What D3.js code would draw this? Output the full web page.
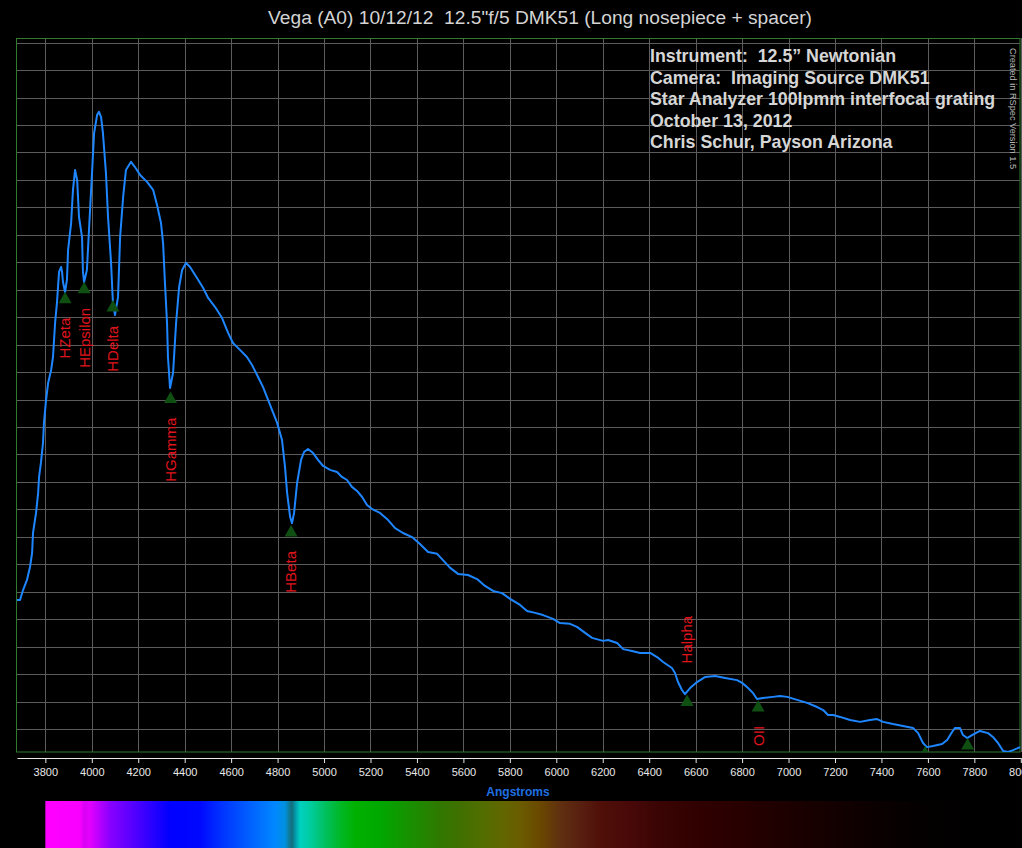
<!DOCTYPE html>
<html lang="en">
<head>
<meta charset="UTF-8">
<title>Vega spectrum</title>
<script src="https://d3js.org/d3.v7.min.js"></script>
<style>
  html, body { margin: 0; padding: 0; background: #000; }
  svg { display: block; font-family: 'Liberation Sans', Arial, sans-serif; }
  svg text { white-space: pre; }
</style>
</head>
<body>
<div id="chart"></div>
<script>

// spectrum trace (angstroms, relative flux in grid units)
const wavelength = [3678, 3691, 3704, 3721, 3734, 3743, 3747, 3760, 3769, 3773,
  3781, 3790, 3794, 3803, 3812, 3825, 3833, 3842, 3850, 3859,
  3868, 3872, 3876, 3885, 3893, 3898, 3911, 3919, 3928, 3937,
  3945, 3958, 3962, 3967, 3979, 3988, 4001, 4010, 4023, 4031,
  4040, 4048, 4061, 4070, 4083, 4091, 4100, 4113, 4122, 4135,
  4147, 4169, 4186, 4208, 4238, 4264, 4281, 4298, 4307, 4315,
  4324, 4328, 4337, 4350, 4363, 4376, 4389, 4406, 4423, 4453,
  4479, 4501, 4531, 4561, 4587, 4608, 4638, 4668, 4690, 4716,
  4737, 4768, 4798, 4819, 4832, 4841, 4854, 4862, 4871, 4884,
  4901, 4914, 4931, 4953, 4974, 4996, 5026, 5056, 5077, 5099,
  5120, 5142, 5164, 5185, 5207, 5241, 5276, 5306, 5340, 5379,
  5413, 5448, 5487, 5508, 5543, 5577, 5620, 5659, 5693, 5728,
  5766, 5801, 5844, 5874, 5909, 5943, 5986, 6016, 6059, 6089,
  6124, 6154, 6201, 6223, 6262, 6288, 6326, 6361, 6404, 6434,
  6460, 6498, 6511, 6524, 6541, 6554, 6576, 6606, 6640, 6684,
  6727, 6778, 6800, 6826, 6847, 6864, 6890, 6933, 6963, 6994,
  7037, 7080, 7123, 7149, 7170, 7192, 7222, 7265, 7308, 7351,
  7381, 7407, 7450, 7493, 7536, 7558, 7579, 7596, 7622, 7661,
  7683, 7704, 7717, 7738, 7751, 7769, 7790, 7824, 7859, 7880,
  7902, 7924, 7945, 7967, 7997];

const flux = [5.70, 5.70, 6.06, 6.43, 6.90, 7.41, 8.14, 8.87, 9.60, 10.18,
  10.69, 11.42, 12.15, 12.98, 13.60, 14.08, 14.55, 15.79, 16.52, 17.65,
  17.83, 17.65, 17.28, 16.92, 17.36, 18.45, 19.43, 20.64, 21.36, 21.00,
  19.65, 18.92, 17.65, 17.28, 17.72, 19.18, 21.25, 22.71, 23.37, 23.48,
  23.29, 22.71, 21.25, 19.65, 17.98, 16.52, 16.08, 16.74, 18.92, 20.38,
  21.36, 21.66, 21.47, 21.18, 20.93, 20.64, 20.09, 19.43, 18.70, 17.25,
  15.79, 14.55, 13.42, 13.97, 15.79, 17.10, 17.72, 17.98, 17.83, 17.43,
  17.07, 16.70, 16.37, 15.97, 15.43, 15.06, 14.81, 14.55, 14.26, 13.82,
  13.46, 12.80, 12.15, 11.53, 10.54, 9.60, 8.72, 8.50, 8.87, 9.96,
  10.80, 11.09, 11.20, 11.05, 10.80, 10.58, 10.44, 10.36, 10.18, 10.07,
  9.82, 9.67, 9.45, 9.16, 9.01, 8.87, 8.61, 8.32, 8.14, 7.99,
  7.74, 7.45, 7.38, 7.19, 6.87, 6.65, 6.61, 6.46, 6.21, 6.03,
  5.95, 5.74, 5.52, 5.30, 5.23, 5.15, 5.01, 4.86, 4.83, 4.72,
  4.50, 4.32, 4.21, 4.24, 4.13, 3.91, 3.84, 3.77, 3.77, 3.62,
  3.44, 3.22, 3.04, 2.71, 2.42, 2.27, 2.49, 2.71, 2.89, 2.93,
  2.86, 2.78, 2.68, 2.49, 2.31, 2.09, 2.13, 2.17, 2.20, 2.17,
  2.06, 1.95, 1.80, 1.69, 1.51, 1.51, 1.44, 1.33, 1.26, 1.33,
  1.36, 1.26, 1.18, 1.11, 1.04, 0.85, 0.49, 0.34, 0.38, 0.45,
  0.60, 0.89, 1.04, 1.04, 0.78, 0.67, 0.78, 0.93, 0.85, 0.71,
  0.49, 0.20, 0.16, 0.23, 0.34];

// identified lines
const lineNames = ["HZeta", "HEpsilon", "HDelta", "HGamma", "HBeta", "Halpha", "OII", "", ""];
const lineWl = [3885, 3967, 4091, 4339, 4858, 6563, 6869, 7588, 7771];
const lineFlux = [16.93, 17.29, 16.63, 13.29, 8.43, 2.26, 2.06, 0.38, 0.67];
const labelAbove = [false, false, false, false, false, true, false, false, false];

const xTicks = [3800, 4000, 4200, 4400, 4600, 4800, 5000, 5200, 5400, 5600, 5800,
  6000, 6200, 6400, 6600, 6800, 7000, 7200, 7400, 7600, 7800, 8000];
const yGrid = [1, 2, 3, 4, 5, 6, 7, 8, 9, 10, 11, 12, 13, 14, 15, 16, 17, 18, 19, 20,
  21, 22, 23, 24, 25, 26];

const titleText = "Vega (A0) 10/12/12  12.5\"f/5 DMK51 (Long nosepiece + spacer)";
const infoLines = ["Instrument:  12.5\u201D Newtonian",
  "Camera:  Imaging Source DMK51",
  "Star Analyzer 100lpmm interfocal grating",
  "October 13, 2012",
  "Chris Schur, Payson Arizona"];

// synthetic colour strip under the axis
const stripWl = [3800, 3950, 3970, 3990, 4080, 4165, 4250, 4336, 4466, 4552, 4638, 4724,
  4789, 4832, 4853, 4862, 4879, 4897, 4940, 5004, 5069, 5134, 5242, 5328, 5414, 5500,
  5586, 5672, 5758, 5844, 5930, 6016, 6102, 6188, 6318, 6447, 6620, 6792, 6964, 7180,
  7395, 7568, 7800];
const stripColor = ["#ff00ff", "#f800ff", "#d800f4", "#e400ff", "#8800ff", "#5c00ff",
  "#2e00ff", "#0000ff", "#0008ff", "#0030ff", "#0050ff", "#0070ff", "#0088ff", "#0090e0",
  "#107890", "#106f7c", "#00a0b0", "#00d0c0", "#00cca0", "#00c060", "#00b828", "#00b000",
  "#00a800", "#109800", "#208800", "#307800", "#407000", "#506e00", "#606800", "#6a5c00",
  "#6a4800", "#603010", "#582010", "#501008", "#480808", "#3a0404", "#300000", "#280000",
  "#1e0000", "#140000", "#0a0000", "#040000", "#000000"];

const W = 1022, H = 848;
const svg = d3.select("#chart").append("svg")
  .attr("width", W)
  .attr("height", H);

svg.append("rect").attr("width", W).attr("height", H).attr("fill", "#000");

const x = d3.scaleLinear().domain([3678, 8000]).range([17, 1020.8]);
const y = d3.scaleLinear().domain([0.162, 26.17]).range([752, 38]);

// grid
const grid = svg.append("g");
grid.selectAll(".hg").data(yGrid).enter().append("line")
  .attr("x1", 17).attr("x2", 1020)
  .attr("y1", d => Math.round(y(d)) + 0.5).attr("y2", d => Math.round(y(d)) + 0.5)
  .attr("stroke", "#5c5c5c").attr("stroke-width", 1);
grid.selectAll(".vg").data(xTicks).enter().append("line")
  .attr("x1", d => Math.round(x(d)) + 0.5).attr("x2", d => Math.round(x(d)) + 0.5)
  .attr("y1", 38).attr("y2", 752)
  .attr("stroke", "#5c5c5c").attr("stroke-width", 1);

svg.append("rect")
  .attr("x", 16.5).attr("y", 38.5).attr("width", 1003.5).attr("height", 713.5)
  .attr("fill", "none").attr("stroke", "#2f7a2f").attr("stroke-width", 1);

svg.append("clipPath").attr("id", "plotclip")
  .append("rect").attr("x", 17).attr("y", 38).attr("width", 1004).attr("height", 714);

// info text
svg.append("g").selectAll("text").data(infoLines).enter().append("text")
  .attr("x", 650)
  .attr("y", (d, i) => 62 + i * 21.5)
  .attr("fill", "#d6d6d6")
  .attr("font-size", "17.8px")
  .attr("font-weight", "bold")
  .text(d => d);

svg.append("text")
  .attr("transform", "translate(1010,48) rotate(90)")
  .attr("fill", "#b8b8b8")
  .attr("font-size", "9.2px")
  .text("Created in RSpec Version 1.5");

// spectrum line
const plot = svg.append("g").attr("clip-path", "url(#plotclip)");
const pts = wavelength.map((w, i) => [w, flux[i]]);
plot.append("path")
  .datum(pts)
  .attr("fill", "none")
  .attr("stroke", "#1e86ff")
  .attr("stroke-width", 2)
  .attr("stroke-linejoin", "round")
  .attr("d", d3.line().x(d => x(d[0])).y(d => y(d[1])));

// line markers
const marks = lineWl.map((w, i) => ({ w: w, f: lineFlux[i], name: lineNames[i], above: labelAbove[i] }));
plot.selectAll(".mk").data(marks).enter().append("path")
  .attr("d", d => {
    const cx = x(d.w), cy = y(d.f);
    return "M" + cx + "," + cy + "L" + (cx + 6.5) + "," + (cy + 11.5) + "L" + (cx - 6.5) + "," + (cy + 11.5) + "Z";
  })
  .attr("fill", "#0f4f12");

plot.selectAll(".lbl").data(marks.filter(d => d.name)).enter().append("text")
  .attr("transform", d => d.above
    ? "translate(" + x(d.w) + "," + (y(d.f) - 31) + ") rotate(-90)"
    : "translate(" + x(d.w) + "," + (y(d.f) + 26) + ") rotate(-90)")
  .attr("text-anchor", d => d.above ? "start" : "end")
  .attr("dy", "0.36em")
  .attr("fill", "#e0141c")
  .attr("font-size", "15px")
  .text(d => d.name);

// x axis
const axis = svg.append("g")
  .attr("transform", "translate(0,758)")
  .call(d3.axisBottom(x).tickValues(xTicks).tickFormat(d3.format("d")).tickSize(5).tickSizeOuter(0).tickPadding(5));
axis.select(".domain").attr("stroke", "#e8e8e8");
axis.selectAll(".tick line").attr("stroke", "#e8e8e8");
axis.selectAll(".tick text").attr("fill", "#e8e8e8").attr("font-size", "11px")
  .attr("font-family", "'Liberation Sans', Arial, sans-serif");

svg.append("text")
  .attr("x", 518).attr("y", 796)
  .attr("text-anchor", "middle")
  .attr("fill", "#1f6fe0")
  .attr("font-size", "12px")
  .attr("font-weight", "bold")
  .text("Angstroms");

// colour strip
const x0 = x(3800), x1 = x(7800);
const grad = svg.append("defs").append("linearGradient")
  .attr("id", "strip")
  .attr("gradientUnits", "userSpaceOnUse")
  .attr("x1", x0).attr("x2", x1).attr("y1", 0).attr("y2", 0);
grad.selectAll("stop").data(stripWl).enter().append("stop")
  .attr("offset", d => (x(d) - x0) / (x1 - x0))
  .attr("stop-color", (d, i) => stripColor[i]);
svg.append("rect")
  .attr("x", x0).attr("y", 801)
  .attr("width", x1 - x0).attr("height", 47)
  .attr("fill", "url(#strip)");

// title
svg.append("text")
  .attr("x", 540).attr("y", 24)
  .attr("text-anchor", "middle")
  .attr("fill", "#d4d4d4")
  .attr("font-size", "19.2px")
  .text(titleText);

</script>
</body>
</html>
